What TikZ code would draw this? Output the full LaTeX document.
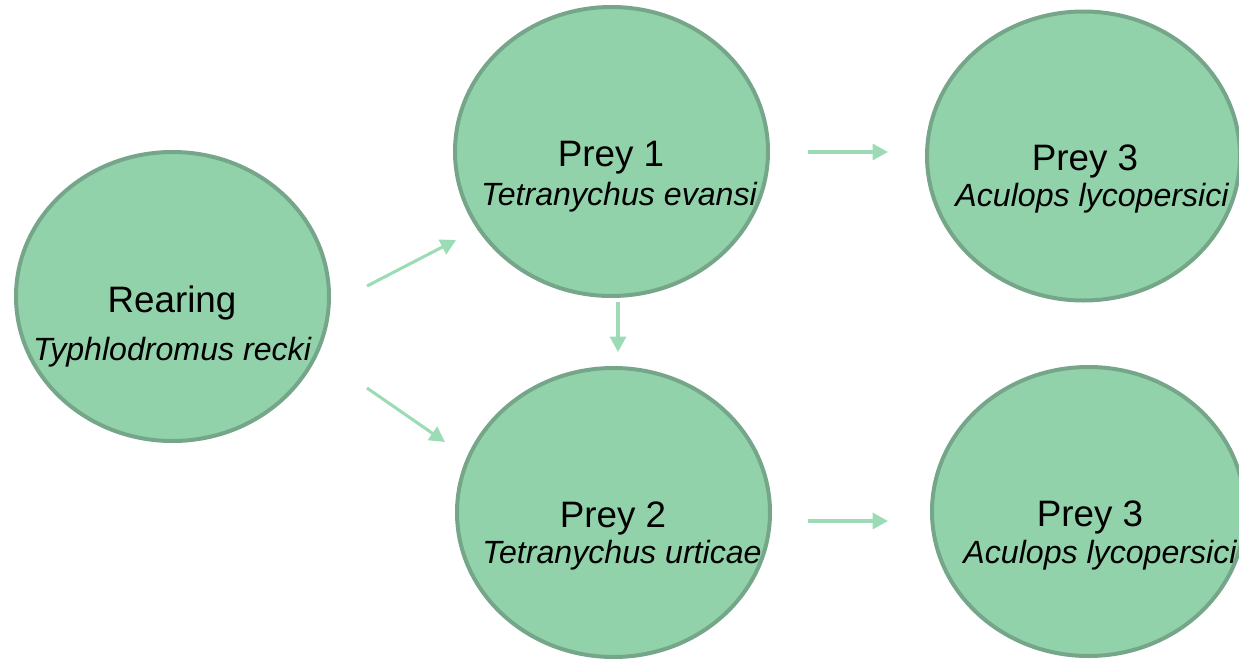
\documentclass[tikz,border=0pt]{standalone}
\usepackage{fontspec}
\setmainfont{Liberation Sans}
\usetikzlibrary{shapes.geometric,arrows.meta}
\definecolor{fillg}{HTML}{92D2AA}
\definecolor{edgeg}{HTML}{76A689}
\definecolor{arrg}{HTML}{9BDCB7}
\begin{document}
\begin{tikzpicture}[x=0.75pt,y=-0.75pt,
  bubble/.style={ellipse, draw=edgeg, fill=fillg, line width=3pt,
    minimum width=234.75pt, minimum height=216.75pt, inner sep=0pt},
  title/.style={anchor=base, inner sep=0pt, font=\fontsize{27.6}{32}\selectfont},
  species/.style={anchor=base, inner sep=0pt, font=\fontsize{24.1}{28}\selectfont\itshape},
  flow/.style={draw=arrg, line width=2.3pt, -{Triangle[length=11.5pt,width=12pt]}}]
\useasboundingbox (0,0) rectangle (1239,661);
\clip (0,0) rectangle (1239,661);
\node[bubble] (rear) at (172.5,296.5) {};
\node[bubble] (p1) at (611.5,151.5) {};
\node[bubble] (p3a) at (1083.5,156) {};
\node[bubble] (p2) at (613.5,512.5) {};
\node[bubble] (p3b) at (1088.5,511.5) {};
\node[title] (rearT) at (172,312) {Rearing};
\node[species] (rearS) at (172,360) {Typhlodromus recki};
\node[title] (p1T) at (611,166) {Prey 1};
\node[species] (p1S) at (619,205) {Tetranychus evansi};
\node[title] (p3aT) at (1085,170) {Prey 3};
\node[species] (p3aS) at (1092,206) {Aculops lycopersici};
\node[title] (p2T) at (613,527) {Prey 2};
\node[species] (p2S) at (622,563) {Tetranychus urticae};
\node[title] (p3bT) at (1090,526) {Prey 3};
\node[species] (p3bS) at (1100,563) {Aculops lycopersici};
\coordinate (a1s) at (367,286);
\coordinate (a1e) at (456,240);
\coordinate (a2s) at (367,388);
\coordinate (a2e) at (445,442);
\coordinate (a3s) at (618,302);
\coordinate (a3e) at (618,352);
\coordinate (a4s) at (808,152);
\coordinate (a4e) at (888,152);
\coordinate (a5s) at (808,521);
\coordinate (a5e) at (888,521);
\draw[flow] (a1s) -- (a1e);
\draw[flow] (a2s) -- (a2e);
\draw[flow] (a3s) -- (a3e);
\draw[flow] (a4s) -- (a4e);
\draw[flow] (a5s) -- (a5e);
\end{tikzpicture}
\end{document}
